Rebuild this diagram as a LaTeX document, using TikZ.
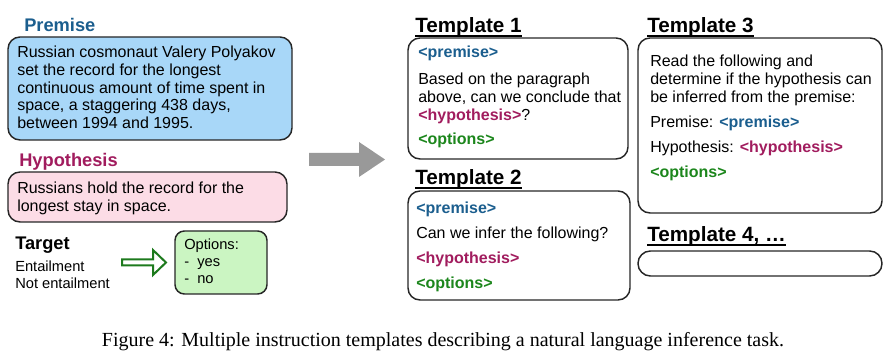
\documentclass[tikz,border=0pt]{standalone}
\usepackage{fontspec}
\setmainfont{Liberation Sans}
\newfontfamily\capfont{Liberation Serif}
\usetikzlibrary{positioning}
\definecolor{premblue}{HTML}{1B5E8E}
\definecolor{hypmagenta}{HTML}{A11C5E}
\definecolor{optgreen}{HTML}{1C861C}
\definecolor{premfill}{HTML}{A8D7F8}
\definecolor{hypfill}{HTML}{FCDCE6}
\definecolor{optfill}{HTML}{CBF5C2}
\definecolor{arrowgray}{HTML}{999999}
\definecolor{arrowgreen}{HTML}{1D7A1D}
\newcommand{\premtag}{\textcolor{premblue}{\textbf{<premise>}}}
\newcommand{\hyptag}{\textcolor{hypmagenta}{\textbf{<hypothesis>}}}
\newcommand{\opttag}{\textcolor{optgreen}{\textbf{<options>}}}

\begin{document}
\begin{tikzpicture}[x=0.75pt, y=-0.75pt,
      card/.style={rectangle, rounded corners=9pt, draw=black!85, line width=1.1pt, inner sep=0pt},
      body/.style={anchor=base west, inner sep=0pt, align=left, font=\fontsize{12}{13.5}\selectfont},
      small/.style={anchor=base west, inner sep=0pt, align=left, font=\fontsize{11}{12.6}\selectfont},
      head/.style={anchor=base west, inner sep=0pt, font=\fontsize{13.7}{16}\selectfont\bfseries},
      thead/.style={anchor=base west, inner sep=0pt, font=\fontsize{15.5}{18}\selectfont\bfseries},
      uline/.style={line width=1.4pt},
      bigarrow/.style={fill=arrowgray},
      hollowarrow/.style={draw=arrowgreen, line width=1.5pt, fill=white, line join=miter},
    ]
    \useasboundingbox (0,0) rectangle (893,359);

    \node[head, text=premblue] (premhead) at (24,32) {Premise};
    \node[card, fill=premfill, minimum width=213pt, minimum height=77.25pt] (prembox) at (150,88.5) {};
    \node[body, font=\fontsize{12}{13.3}\selectfont] (premtext) at (17,128.5) {Russian cosmonaut Valery Polyakov\\set the record for the longest\\continuous amount of time spent in\\space, a staggering 438 days,\\between 1994 and 1995.};

    \node[head, text=hypmagenta] (hyphead) at (19,167) {Hypothesis};
    \node[card, fill=hypfill, minimum width=209.25pt, minimum height=37.5pt] (hypbox) at (147.5,197) {};
    \node[body] (hyptext) at (17,211.5) {Russians hold the record for the\\longest stay in space.};

    \node[head] (tgthead) at (15,250) {Target};
    \node[small, font=\fontsize{11}{12.75}\selectfont] (tgttext) at (15,289) {Entailment\\Not entailment};
    \node[card, rounded corners=7pt, fill=optfill, minimum width=69pt, minimum height=47.25pt] (optbox) at (221,262.5) {};
    \node[small] (opttext) at (184,283.3) {Options:\\-\ \ yes\\-\ \ no};
    \draw[hollowarrow] (122,259.5) -- (153,259.5) -- (153,250) -- (166,262.5) -- (153,275) -- (153,265.5) -- (122,265.5) -- cycle;

    \fill[bigarrow] (309,153) -- (359,153) -- (359,142) -- (385,159.5) -- (359,177) -- (359,166) -- (309,166) -- cycle;

    \node[thead] (t1) at (415,33) {Template 1};
    \node[card, minimum width=165pt, minimum height=90.75pt] (t1box) at (518,98.5) {};
    \node[body] (t1text) at (418,145) {\premtag\\[6.4pt]Based on the paragraph\\above, can we conclude that\\\hyptag?\\[4.9pt]\opttag};

    \node[thead] (t2) at (415,185) {Template 2};
    \node[card, minimum width=166.5pt, minimum height=81.75pt] (t2box) at (519,245.5) {};
    \node[body] (t2text) at (416,288.5) {\premtag\\[5.25pt]Can we infer the following?\\[5.25pt]\hyptag\\[5.25pt]\opttag};

    \node[thead] (t3) at (647,33) {Template 3};
    \node[card, minimum width=183pt, minimum height=131.25pt] (t3box) at (760,125.5) {};
    \node[body] (t3text) at (650,177.5) {Read the following and\\determine if the hypothesis can\\be inferred from the premise:\\[5.25pt]Premise: \premtag\\[5.25pt]Hypothesis: \hyptag\\[5.25pt]\opttag};

    \node[thead] (t4) at (647,242) {Template 4, …};
    \node[card, rounded corners=9.3pt, minimum width=183pt, minimum height=18.75pt] (t4box) at (760,263.5) {};

    \foreach \t in {t1,t2,t3,t4}
      \draw[uline] ([yshift=-2.5pt]\t.base west) -- ([yshift=-2.5pt]\t.base east);

    \node[anchor=base, inner sep=0pt, font=\capfont\fontsize{15}{17}\selectfont] (caption) at (443,347) {Figure 4: Multiple instruction templates describing a natural language inference task.};
  \end{tikzpicture}
\end{document}
